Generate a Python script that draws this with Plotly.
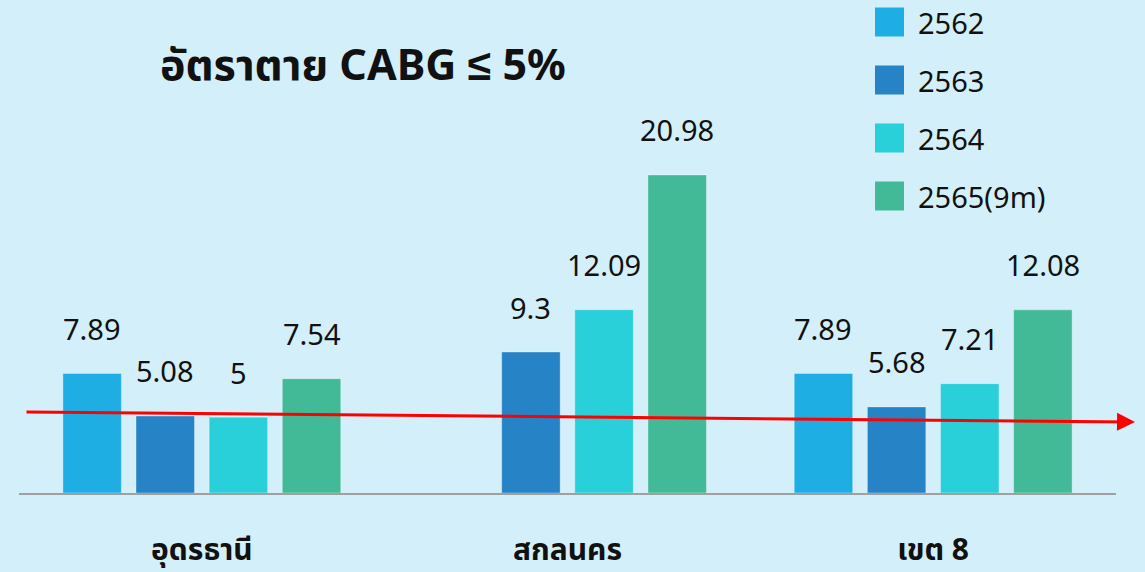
import plotly.graph_objects as go

categories = ["อุดรธานี", "สกลนคร", "เขต 8"]
series_names = ["2562", "2563", "2564", "2565(9m)"]
values_2562 = [7.89, None, 7.89]
values_2563 = [5.08, 9.3, 5.68]
values_2564 = [5, 12.09, 7.21]
values_2565 = [7.54, 20.98, 12.08]
series_values = [values_2562, values_2563, values_2564, values_2565]
colors = ["#1FAEE4", "#2683C6", "#29CFD9", "#42BA97"]
title_text = "อัตราตาย CABG ≤ 5%"

BG = "#D3EFFA"
FONT = "Noto Sans, Noto Sans Thai, Leelawadee UI, sans-serif"

fig = go.Figure()
for name, vals, col in zip(series_names, series_values, colors):
    fig.add_trace(go.Bar(
        x=categories, y=vals, name=name,
        marker=dict(color=col, line=dict(color="rgba(255,255,255,0.35)", width=1)),
        showlegend=False,
    ))

annotations = []
n = len(series_names)
slot_px = 73.3
for i, vals in enumerate(series_values):
    for c, v in zip(categories, vals):
        if v is None:
            continue
        annotations.append(dict(
            x=c, y=v, xref="x", yref="y", text=f"{v:g}", showarrow=False,
            xshift=(i - (n - 1) / 2) * slot_px, yshift=45,
            font=dict(size=29, color="#111111", family=FONT),
        ))

# Manual legend (layout-level)
shapes = []
for k, (name, col) in enumerate(zip(series_names, colors)):
    yc = 22 + 58 * k
    shapes.append(dict(type="rect", xref="paper", yref="paper",
                       x0=(875 - 19) / 1097, x1=(904 - 19) / 1097,
                       y0=(493 - (yc + 14.5)) / 473, y1=(493 - (yc - 14.5)) / 473,
                       fillcolor=col, line=dict(width=0)))
    annotations.append(dict(x=(916 - 19) / 1097, y=(493 - yc) / 473, xref="paper", yref="paper",
                            text=name, showarrow=False, xanchor="left", yanchor="middle",
                            font=dict(size=29, color="#111111", family=FONT)))

# Title
annotations.append(dict(x=(158 - 19) / 1097, y=(493 - 63) / 473, xref="paper", yref="paper",
                        text="<b>" + title_text + "</b>", showarrow=False,
                        xanchor="left", yanchor="middle",
                        font=dict(size=43, color="#111111", family=FONT)))

# Red arrow
annotations.append(dict(x=(1135 - 19) / 1097, y=(493 - 422) / 473, xref="x domain", yref="y domain",
                        ax=(25 - 19) / 1097, ay=(493 - 412) / 473, axref="x domain", ayref="y domain",
                        text="", showarrow=True, arrowhead=2, arrowsize=1.2, arrowwidth=3,
                        arrowcolor="#FF0000", standoff=0, startstandoff=0))

fig.update_layout(
    width=1145, height=572,
    margin=dict(l=19, r=29, t=20, b=79),
    paper_bgcolor=BG, plot_bgcolor=BG,
    barmode="group", bargap=0.2, bargroupgap=0.2,
    annotations=annotations, shapes=shapes,
    font=dict(family=FONT, color="#111111"),
)
fig.update_xaxes(showline=True, linecolor="#A0A0A0", linewidth=2, showgrid=False,
                 automargin=False,
                 tickfont=dict(size=30, color="#111111", family=FONT),
                 tickprefix="<b>", ticksuffix="</b>", ticklabelstandoff=29)
fig.update_yaxes(range=[0, 31.2], visible=False, showgrid=False, automargin=False)

fig.write_html("out.html", config={"displayModeBar": False},
               post_script="document.body.style.margin='0';")
